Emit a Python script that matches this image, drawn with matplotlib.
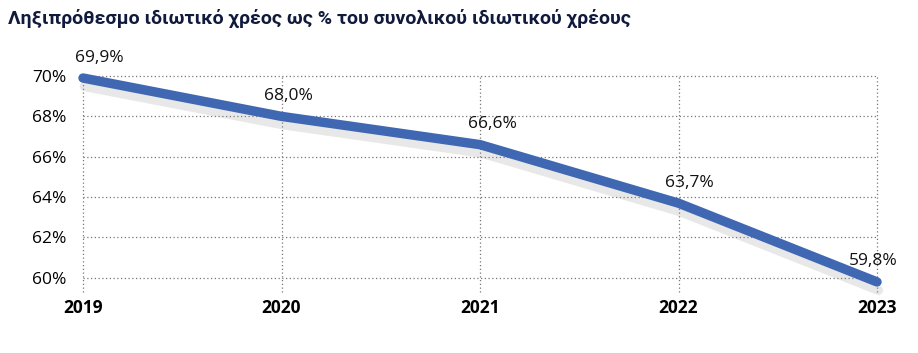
import matplotlib
matplotlib.use("Agg")
import matplotlib.pyplot as plt
import matplotlib.patheffects as pe
from matplotlib.ticker import FuncFormatter

years = [2019, 2020, 2021, 2022, 2023]
share = [69.9, 68.0, 66.6, 63.7, 59.8]
labels = ["69,9%", "68,0%", "66,6%", "63,7%", "59,8%"]
yticks = [60, 62, 64, 66, 68, 70]
label_dx = [12, 5, 9, 8, -3]   # horizontal nudges of the value labels (points)

LINE_C = "#4068b2"
TITLE_C = "#101a3c"
FONT = "Open Sans"

fig = plt.figure(figsize=(9.18, 3.53), dpi=100)
ax = fig.add_axes([83 / 918, 1 - 292 / 353, (877 - 83) / 918, (292 - 76) / 353])

ax.plot(years, share, color=LINE_C, lw=6.8, solid_capstyle="round", clip_on=False, zorder=3,
        path_effects=[pe.SimpleLineShadow(offset=(1, -6), shadow_color="#9a9a9a", alpha=0.22),
                      pe.Normal()])
for x, y, t, dx in zip(years, share, labels, label_dx):
    ax.annotate(t, (x, y), xytext=(dx, 9), textcoords="offset points", ha="center",
                va="bottom", fontsize=12.5, family=FONT, color="#111111")

ax.set_xlim(2019, 2023)
ax.set_ylim(59.3, 70)
ax.set_xticks(years)
ax.set_yticks(yticks)
ax.yaxis.set_major_formatter(FuncFormatter(lambda v, p: f"{v:.0f}%"))
ax.grid(True, ls=(0, (1, 2)), color="#777777", lw=0.9)
for gl in ax.get_xgridlines() + ax.get_ygridlines():
    gl.set_clip_on(False)
for s in ax.spines.values():
    s.set_visible(False)
ax.tick_params(length=0)
ax.tick_params(axis="y", pad=12, labelsize=12.5)
ax.tick_params(axis="x", pad=5, labelsize=12.5)
for lab in ax.get_yticklabels():
    lab.set_family(FONT)
for lab in ax.get_xticklabels():
    lab.set_family(FONT); lab.set_fontweight("bold")

fig.text(8 / 918, 1 - 18 / 353, "Ληξιπρόθεσμο ιδιωτικό χρέος ως % του συνολικού ιδιωτικού χρέους",
         fontsize=14, fontweight="bold", color=TITLE_C, va="center", ha="left",
         family=["Roboto", "DejaVu Sans"])

fig.savefig("out.png", dpi=100)
